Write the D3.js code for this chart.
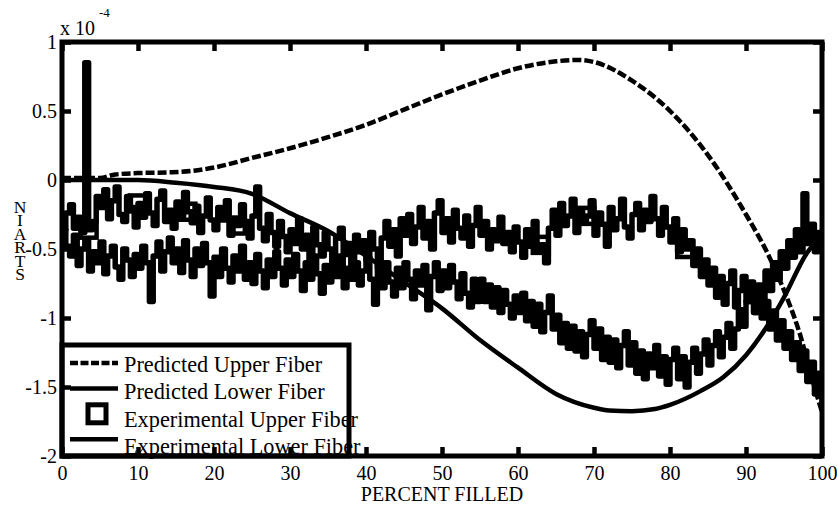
<!DOCTYPE html>
<html>
<head>
<meta charset="utf-8">
<script src="https://cdn.jsdelivr.net/npm/d3@7"></script>
<style>
  html, body { margin: 0; padding: 0; background: #fff; }
  svg { display: block; font-family: "Liberation Serif", "Times New Roman", serif; }
  svg text { font-family: "Liberation Serif", "Times New Roman", serif; }
</style>
</head>
<body>
<svg id="chart" width="837" height="508"></svg>
<script>
// ---- data (strain in units of 1e-4) ----
const percentTicks = [0, 10, 20, 30, 40, 50, 60, 70, 80, 90, 100];
const strainTicks = [1, 0.5, 0, -0.5, -1, -1.5, -2];

const predictedUpperPct = [0, 5, 7, 10, 14, 17, 20, 25, 30, 35, 40, 45, 50, 55, 60, 65, 68, 70, 75, 80, 85, 90, 93, 95, 97, 99, 100];
const predictedUpperVal = [0.015, 0.015, 0.04, 0.05, 0.055, 0.065, 0.09, 0.16, 0.23, 0.31, 0.40, 0.51, 0.62, 0.72, 0.81, 0.86, 0.87, 0.855, 0.72, 0.50, 0.18, -0.25, -0.55, -0.80, -1.10, -1.50, -1.68];

const predictedLowerPct = [0, 10, 15, 20, 25, 30, 35, 40, 45, 50, 55, 60, 65, 70, 72, 75, 78, 80, 84, 87, 90, 93, 95, 98, 100];
const predictedLowerVal = [0, 0, -0.02, -0.05, -0.10, -0.24, -0.37, -0.55, -0.74, -0.93, -1.16, -1.36, -1.55, -1.65, -1.67, -1.675, -1.66, -1.63, -1.53, -1.43, -1.27, -1.04, -0.85, -0.53, -0.40];

// experimental samples every 0.5 % filled
const experimentalPct = d3.range(0, 100.25, 0.5);
const experimentalUpper = [
  -0.36,-0.24,-0.18,-0.35,-0.27,-0.38,0.85,-0.36,-0.30,-0.12,
  -0.20,-0.07,-0.28,-0.15,-0.05,-0.25,-0.30,-0.12,-0.20,-0.34,
  -0.17,-0.27,-0.10,-0.24,-0.33,-0.14,-0.08,-0.30,-0.22,-0.35,
  -0.16,-0.26,-0.09,-0.23,-0.31,-0.19,-0.38,-0.26,-0.13,-0.29,
  -0.36,-0.20,-0.29,-0.15,-0.40,-0.28,-0.33,-0.18,-0.30,-0.42,
  -0.26,-0.05,-0.35,-0.44,-0.25,-0.38,-0.48,-0.30,-0.41,-0.52,
  -0.36,-0.46,-0.28,-0.50,-0.40,-0.58,-0.34,-0.47,-0.55,-0.38,
  -0.50,-0.60,-0.42,-0.35,-0.54,-0.46,-0.62,-0.40,-0.52,-0.44,
  -0.58,-0.38,-0.50,-0.64,-0.42,-0.30,-0.48,-0.36,-0.55,-0.28,
  -0.40,-0.25,-0.46,-0.34,-0.20,-0.42,-0.30,-0.50,-0.24,-0.15,
  -0.38,-0.28,-0.45,-0.22,-0.35,-0.42,-0.26,-0.48,-0.33,-0.20,
  -0.40,-0.30,-0.50,-0.36,-0.44,-0.27,-0.46,-0.38,-0.52,-0.34,
  -0.45,-0.56,-0.36,-0.48,-0.30,-0.50,-0.47,-0.60,-0.35,-0.22,
  -0.40,-0.17,-0.33,-0.26,-0.14,-0.38,-0.22,-0.30,-0.26,-0.15,
  -0.40,-0.24,-0.32,-0.48,-0.20,-0.36,-0.28,-0.14,-0.34,-0.42,
  -0.25,-0.17,-0.36,-0.22,-0.30,-0.12,-0.28,-0.40,-0.20,-0.34,
  -0.45,-0.28,-0.52,-0.36,-0.50,-0.44,-0.62,-0.50,-0.70,-0.58,
  -0.76,-0.64,-0.85,-0.70,-0.90,-0.75,-0.66,-0.92,-0.80,-0.70,
  -0.88,-0.74,-0.96,-0.82,-1.00,-0.88,-1.08,-0.95,-1.16,-1.02,
  -1.22,-1.10,-1.30,-1.18,-1.38,-1.24,-1.46,-1.32,-1.55,-1.40,
  -1.62
];
const experimentalLower = [
  -0.36,-0.48,-0.55,-0.40,-0.62,-0.50,-0.44,-0.66,-0.52,-0.60,
  -0.45,-0.68,-0.55,-0.48,-0.63,-0.72,-0.50,-0.58,-0.70,-0.54,
  -0.64,-0.48,-0.60,-0.88,-0.55,-0.45,-0.66,-0.52,-0.42,-0.60,
  -0.50,-0.67,-0.44,-0.58,-0.70,-0.50,-0.62,-0.46,-0.60,-0.84,
  -0.56,-0.70,-0.50,-0.64,-0.74,-0.55,-0.66,-0.48,-0.72,-0.60,
  -0.75,-0.54,-0.66,-0.78,-0.58,-0.70,-0.52,-0.64,-0.76,-0.58,
  -0.70,-0.54,-0.66,-0.80,-0.60,-0.72,-0.55,-0.68,-0.82,-0.62,
  -0.74,-0.58,-0.70,-0.55,-0.78,-0.64,-0.72,-0.60,-0.76,-0.66,
  -0.56,-0.72,-0.90,-0.62,-0.78,-0.60,-0.74,-0.84,-0.64,-0.78,
  -0.60,-0.72,-0.86,-0.66,-0.76,-0.62,-0.94,-0.70,-0.60,-0.80,
  -0.66,-0.78,-0.62,-0.74,-0.86,-0.68,-0.82,-0.92,-0.72,-0.88,
  -0.72,-0.88,-0.76,-0.92,-0.78,-0.96,-0.80,-0.90,-1.00,-0.84,
  -0.96,-0.82,-1.02,-0.88,-1.06,-0.90,-1.10,-0.96,-0.84,-1.08,
  -0.98,-1.18,-1.04,-1.22,-1.06,-1.24,-1.10,-1.28,-1.12,-1.02,
  -1.22,-1.08,-1.30,-1.14,-1.32,-1.16,-1.36,-1.20,-1.10,-1.34,
  -1.18,-1.40,-1.24,-1.44,-1.26,-1.36,-1.20,-1.42,-1.28,-1.48,
  -1.30,-1.22,-1.44,-1.28,-1.50,-1.32,-1.22,-1.40,-1.26,-1.16,
  -1.34,-1.20,-1.10,-1.28,-1.14,-1.04,-1.22,-1.08,-0.94,-1.06,
  -0.88,-0.80,-0.96,-0.76,-0.88,-0.66,-0.80,-0.60,-0.72,-0.52,
  -0.64,-0.44,-0.56,-0.36,-0.52,-0.10,-0.46,-0.32,-0.52,-0.38,
  -0.46
];
// square markers on the upper-fiber measurement (% filled)
const upperMarkerPct = [3.5, 10, 16.5, 23, 63, 69, 82];

const legendLabels = ["Predicted Upper Fiber", "Predicted Lower Fiber", "Experimental Upper Fiber", "Experimental Lower Fiber"];
const yLabelLetters = ["N", "I", "A", "R", "T", "S"];

// ---- layout ----
const serif = "'Liberation Serif', 'Times New Roman', serif";
const svg = d3.select("#chart");
const plot = { left: 62, right: 822, top: 42, bottom: 456 };
const x = d3.scaleLinear().domain([0, 100]).range([plot.left, plot.right]);
const y = d3.scaleLinear().domain([-2, 1]).range([plot.bottom, plot.top]);

svg.append("defs").append("clipPath").attr("id", "plotClip")
  .append("rect")
  .attr("x", plot.left).attr("y", plot.top)
  .attr("width", plot.right - plot.left).attr("height", plot.bottom - plot.top);

const zip = (xs, ys) => xs.map((p, i) => ({ p, v: ys[i] }));

const smooth = d3.line().x(d => x(d.p)).y(d => y(d.v)).curve(d3.curveMonotoneX);
const steps = d3.line().x(d => x(d.p)).y(d => y(d.v)).curve(d3.curveStepAfter);

const layer = svg.append("g").attr("clip-path", "url(#plotClip)");

// predicted curves
layer.append("path")
  .attr("d", smooth(zip(predictedUpperPct, predictedUpperVal)))
  .attr("fill", "none").attr("stroke", "#000").attr("stroke-width", 4.5)
  .attr("stroke-dasharray", "9,3");
layer.append("path")
  .attr("d", smooth(zip(predictedLowerPct, predictedLowerVal)))
  .attr("fill", "none").attr("stroke", "#000").attr("stroke-width", 4.5);

// measured curves
[experimentalUpper, experimentalLower].forEach(series => {
  layer.append("path")
    .attr("d", steps(zip(experimentalPct, series)))
    .attr("fill", "none").attr("stroke", "#000").attr("stroke-width", 5.5)
    .attr("stroke-linejoin", "round");
});

const markerSize = 16;
layer.selectAll("rect.marker")
  .data(upperMarkerPct.map(p => ({ p, v: experimentalUpper[experimentalPct.indexOf(p)] })))
  .join("rect").attr("class", "marker")
  .attr("x", d => x(d.p) - markerSize / 2)
  .attr("y", d => y(d.v) - markerSize / 2)
  .attr("width", markerSize).attr("height", markerSize)
  .attr("fill", "none").attr("stroke", "#000").attr("stroke-width", 4.5);

// ---- legend ----
const legend = svg.append("g");
const lg = { x: 62, y: 345, w: 287, h: 111 };
legend.append("rect")
  .attr("x", lg.x).attr("y", lg.y).attr("width", lg.w).attr("height", lg.h)
  .attr("fill", "#fff");
const rowBase = i => 372 + i * 27.3;
const rowMark = i => 363 + i * 25.4;
legendLabels.forEach((label, i) => {
  if (i === 2) {
    legend.append("rect")
      .attr("x", 97 - 9).attr("y", rowMark(i) - 9)
      .attr("width", 18).attr("height", 18)
      .attr("fill", "none").attr("stroke", "#000").attr("stroke-width", 5);
  } else {
    legend.append("line")
      .attr("x1", 70).attr("x2", 118)
      .attr("y1", rowMark(i)).attr("y2", rowMark(i))
      .attr("stroke", "#000").attr("stroke-width", 4.5)
      .attr("stroke-dasharray", i === 0 ? "8,2.5" : null);
  }
  legend.append("text")
    .attr("x", 124).attr("y", rowBase(i))
    .attr("font-family", serif)
    .attr("font-size", 22.3).attr("fill", "#000")
    .text(label);
});
legend.append("rect")
  .attr("x", lg.x).attr("y", lg.y).attr("width", lg.w).attr("height", lg.h)
  .attr("fill", "none").attr("stroke", "#000").attr("stroke-width", 5);

// ---- axes ----
const tickStyle = g => {
  g.attr("font-family", serif);
  g.select(".domain").remove();
  g.selectAll(".tick line").attr("stroke", "#000").attr("stroke-width", 4.5);
  g.selectAll(".tick text").attr("fill", "#000").attr("font-size", 20)
    .attr("font-family", serif);
};

svg.append("g").attr("transform", `translate(0,${plot.bottom})`)
  .call(d3.axisBottom(x).tickValues(percentTicks).tickSize(-9).tickPadding(10).tickFormat(d => String(d)))
  .call(tickStyle);
svg.append("g").attr("transform", `translate(0,${plot.top})`)
  .call(d3.axisTop(x).tickValues(percentTicks).tickSize(-9).tickFormat(""))
  .call(tickStyle);
svg.append("g").attr("transform", `translate(${plot.left},0)`)
  .call(d3.axisLeft(y).tickValues(strainTicks).tickSize(-9).tickPadding(5).tickFormat(d => String(d)))
  .call(tickStyle);
svg.append("g").attr("transform", `translate(${plot.right},0)`)
  .call(d3.axisRight(y).tickValues(strainTicks).tickSize(-9).tickFormat(""))
  .call(tickStyle);

svg.append("rect")
  .attr("x", plot.left).attr("y", plot.top)
  .attr("width", plot.right - plot.left).attr("height", plot.bottom - plot.top)
  .attr("fill", "none").attr("stroke", "#000").attr("stroke-width", 5);

// exponent label
const expo = svg.append("text").attr("x", 60).attr("y", 35)
  .attr("font-family", serif).attr("font-size", 20).attr("fill", "#000");
expo.append("tspan").text("x 10");
expo.append("tspan").attr("x", 99).attr("y", 17).attr("font-size", 13).text("-4");

// axis titles
svg.append("text")
  .attr("x", 442).attr("y", 501).attr("text-anchor", "middle")
  .attr("font-family", serif).attr("font-size", 20).attr("fill", "#000")
  .text("PERCENT FILLED");

// vertical stacked y title, one letter per line
svg.append("text")
  .attr("text-anchor", "middle")
  .attr("font-family", serif).attr("font-size", 17.5).attr("fill", "#000")
  .selectAll("tspan")
  .data(yLabelLetters)
  .join("tspan")
  .attr("x", 20)
  .attr("y", (d, i) => 213 + i * 13.4)
  .text(d => d);
</script>
</body>
</html>
